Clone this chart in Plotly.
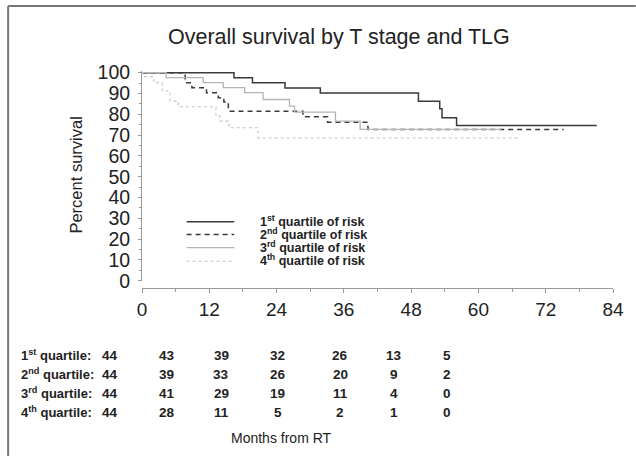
import plotly.graph_objects as go

# ---- data ----
t_q1 = [0, 16.4, 19.7, 25.5, 31.8, 49.3, 53.1, 53.5, 56.1, 81.1]
s_q1 = [100, 97.6, 95.2, 92.6, 90.2, 86.3, 82.6, 78.3, 74.6, 74.6]

t_q2 = [0, 7.7, 8.9, 11.5, 13.6, 14.6, 15.4, 28.7, 33.1, 40.3, 75.2]
s_q2 = [100, 95.2, 92.8, 90.4, 88.0, 85.9, 81.5, 78.8, 76.2, 72.7, 72.7]

t_q3 = [0, 4.3, 10.9, 14.5, 18.3, 21.6, 26.3, 27.2, 34.5, 38.9, 64.0]
s_q3 = [100, 97.6, 95.2, 92.8, 90.4, 87.1, 83.9, 81.0, 76.7, 72.7, 72.7]

t_q4 = [0, 0.2, 2.1, 3.6, 5.0, 6.5, 13.2, 13.9, 15.5, 20.7, 67.2]
s_q4 = [100, 98.1, 95.2, 91.2, 86.3, 83.6, 79.1, 76.7, 73.5, 68.6, 68.6]

legend_labels = ["1<sup>st</sup> quartile of risk", "2<sup>nd</sup> quartile of risk",
                 "3<sup>rd</sup> quartile of risk", "4<sup>th</sup> quartile of risk"]
risk_labels = ["1<sup>st</sup> quartile:", "2<sup>nd</sup> quartile:",
               "3<sup>rd</sup> quartile:", "4<sup>th</sup> quartile:"]
risk_q1 = [44, 43, 39, 32, 26, 13, 5]
risk_q2 = [44, 39, 33, 26, 20, 9, 2]
risk_q3 = [44, 41, 29, 19, 11, 4, 0]
risk_q4 = [44, 28, 11, 5, 2, 1, 0]
x_ticks = [0, 12, 24, 36, 48, 60, 72, 84]
y_ticks = list(range(0, 101, 10))

# ---- geometry helpers (pixel -> paper) ----
W, H = 636, 456
L, R, T, B = 142, 19, 71, 168
PW, PH = W - L - R, H - T - B


def px(x):
    return (x - L) / PW


def py(y):
    return (H - B - y) / PH


FONT = "Liberation Sans, Arial, sans-serif"
styles = [
    dict(color="#3a3a3a", width=1.5, dash="solid"),
    dict(color="#3a3a3a", width=1.5, dash="5px,4px"),
    dict(color="#b4b4b4", width=1.3, dash="solid"),
    dict(color="#c4c4c4", width=1.1, dash="3px,3px"),
]

fig = go.Figure()
for t, s, st, name in zip([t_q1, t_q2, t_q3, t_q4], [s_q1, s_q2, s_q3, s_q4], styles, legend_labels):
    fig.add_trace(go.Scatter(x=t, y=s, mode="lines", line=dict(shape="hv", **st),
                             name=name, showlegend=False, hoverinfo="skip"))

y0_frac = py(280.7)
fig.update_layout(
    width=W, height=H,
    margin=dict(l=L, r=R, t=T, b=B, pad=0),
    paper_bgcolor="white", plot_bgcolor="white",
    font=dict(family=FONT, color="#222"),
    xaxis=dict(range=[0, 84], tickvals=x_ticks, ticks="outside", ticklen=4, tickcolor="#999",
               showline=True, linecolor="#999", linewidth=1, showgrid=False, zeroline=False,
               tickfont=dict(size=19, family=FONT, color="#222"),
               minor=dict(dtick=6, ticks="outside", ticklen=3, tickcolor="#999", showgrid=False),
               anchor="free", position=0),
    yaxis=dict(range=[0, 100.8], domain=[y0_frac, 1], tickvals=y_ticks, ticks="outside", ticklen=3,
               tickcolor="#999", showline=True, linecolor="#999", linewidth=1, showgrid=False,
               zeroline=False, tickfont=dict(size=19.5, family=FONT, color="#222"),
               ticklabelstandoff=4,
               minor=dict(dtick=5, ticks="outside", ticklen=2, tickcolor="#999", showgrid=False)),
)

ann = []
shapes = []
# title
ann.append(dict(text="Overall survival by T stage and TLG", x=px(341), y=py(37), xref="paper", yref="paper",
                showarrow=False, font=dict(size=21.5, family=FONT, color="#222"), xanchor="center", yanchor="middle"))
# y label
ann.append(dict(text="Percent survival", x=px(75), y=py(175), xref="paper", yref="paper", textangle=-90,
                showarrow=False, font=dict(size=16.5, family=FONT, color="#222"), xanchor="center", yanchor="middle"))
# legend
leg_y = [221.7, 234.5, 247.7, 261.3]
for st, lab, yy in zip(styles, legend_labels, leg_y):
    shapes.append(dict(type="line", xref="paper", yref="paper", x0=px(187), x1=px(235), y0=py(yy), y1=py(yy),
                       line=dict(color=st["color"], width=st["width"], dash=st["dash"])))
    ann.append(dict(text="<b>" + lab + "</b>", x=px(259), y=py(yy - 1), xref="paper", yref="paper",
                    showarrow=False, xanchor="left", yanchor="middle",
                    font=dict(size=12.5, family=FONT, color="#222")))
# risk table
row_y = [355, 374, 393, 412]
col_x = [110, 167, 222, 279, 342, 396, 450]
for lab, vals, yy in zip(risk_labels, [risk_q1, risk_q2, risk_q3, risk_q4], row_y):
    ann.append(dict(text="<b>" + lab + "</b>", x=px(18), y=py(yy), xref="paper", yref="paper",
                    showarrow=False, xanchor="left", yanchor="middle",
                    font=dict(size=13, family=FONT, color="#222")))
    for v, cx in zip(vals, col_x):
        ann.append(dict(text="<b>%d</b>" % v, x=px(cx), y=py(yy), xref="paper", yref="paper",
                        showarrow=False, xanchor="center", yanchor="middle",
                        font=dict(size=13.5, family=FONT, color="#222")))
ann.append(dict(text="Months from RT", x=px(283), y=py(438), xref="paper", yref="paper",
                showarrow=False, xanchor="center", yanchor="middle",
                font=dict(size=14, family=FONT, color="#222")))
# outer frame (top and left edges)
shapes.append(dict(type="line", xref="paper", yref="paper", x0=px(7), x1=px(640), y0=py(6), y1=py(6),
                   line=dict(color="#777", width=2)))
shapes.append(dict(type="line", xref="paper", yref="paper", x0=px(7), x1=px(7), y0=py(6), y1=py(460),
                   line=dict(color="#777", width=2)))

fig.update_layout(annotations=ann, shapes=shapes)
fig.write_html("out.html", config={"displayModeBar": False},
               post_script="document.body.style.margin='0';document.body.style.overflow='hidden';")
